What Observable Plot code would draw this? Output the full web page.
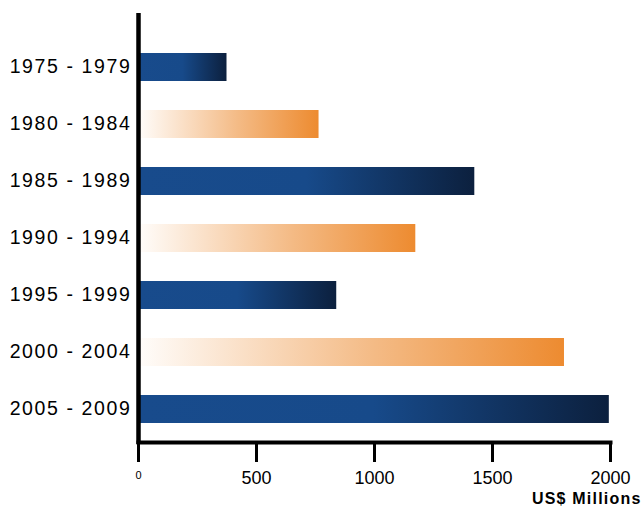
<!DOCTYPE html>
<html><head><meta charset="utf-8">
<script src="https://cdn.jsdelivr.net/npm/d3@7"></script>
<script src="https://cdn.jsdelivr.net/npm/@observablehq/plot@0.6"></script>
<style>body{margin:0;background:#fff;} #chart{width:641px;height:508px;}</style>
</head><body><div id="chart"></div>
<script>
const periods = ["1975 - 1979", "1980 - 1984", "1985 - 1989", "1990 - 1994", "1995 - 1999", "2000 - 2004", "2005 - 2009"];
const values = [375, 765, 1425, 1175, 840, 1805, 1995];
const xTicks = [500, 1000, 1500, 2000];
const zeroTick = [0];
const unitLabel = "US$ Millions";

const rows = periods.map((p, i) => ({period: p, value: values[i], i}));

const svg = Plot.plot({
  width: 641, height: 508,
  marginLeft: 138, marginRight: 31, marginTop: 13, marginBottom: 66,
  style: {fontFamily: "'Liberation Sans', Arial, sans-serif", background: "#fff", color: "#000"},
  x: {domain: [0, 2000], label: null},
  y: {domain: periods, paddingInner: 0.512, paddingOuter: 0.497, align: 0.68, axis: null},
  marks: [
    Plot.barX(rows, {filter: d => d.i % 2 === 0, x: "value", y: "period", fill: "url(#gBlue)"}),
    Plot.barX(rows, {filter: d => d.i % 2 === 1, x: "value", y: "period", fill: "url(#gOrange)"}),
    Plot.ruleX([0], {stroke: "#000", strokeWidth: 4.5, insetBottom: -2}),
    Plot.frame({anchor: "bottom", stroke: "#000", strokeWidth: 4, strokeLinecap: "square"}),
    Plot.axisX({ticks: xTicks, tickFormat: d3.format("d"), tickSize: 20, tickPadding: 9, strokeWidth: 3, fontSize: 18, label: null}),
    Plot.axisX({ticks: zeroTick, tickFormat: d3.format("d"), tickSize: 20, tickPadding: 9, strokeWidth: 3, fontSize: 11, label: null}),
    Plot.text(rows, {y: "period", text: "period", frameAnchor: "left", dx: -68, dy: -1, textAnchor: "middle", fontSize: 19.5}),
    Plot.text([unitLabel], {text: d => d, frameAnchor: "bottom-right", dx: 31, dy: 61, textAnchor: "end", fontSize: 16, fontWeight: "bold"})
  ]
});

const defs = d3.select(svg).insert("defs", ":first-child");
const gb = defs.append("linearGradient").attr("id", "gBlue").attr("x1", 0).attr("x2", 1).attr("y1", 0).attr("y2", 0);
[[0, "#184b8c"], [0.5, "#174a8a"], [1, "#0c203e"]].forEach(([o, c]) => gb.append("stop").attr("offset", o).attr("stop-color", c));
const go = defs.append("linearGradient").attr("id", "gOrange").attr("x1", 0).attr("x2", 1).attr("y1", 0).attr("y2", 0);
[[0, "#fffdfb"], [0.55, "#f4bb86"], [1, "#ed8b30"]].forEach(([o, c]) => go.append("stop").attr("offset", o).attr("stop-color", c));

const texts = d3.select(svg).selectAll('g[aria-label="text"]');
texts.filter((d, i) => i === 0).attr("letter-spacing", "1.6px");
texts.filter((d, i) => i === 1).attr("letter-spacing", "1.2px");

document.getElementById("chart").appendChild(svg);
</script>
</body></html>
